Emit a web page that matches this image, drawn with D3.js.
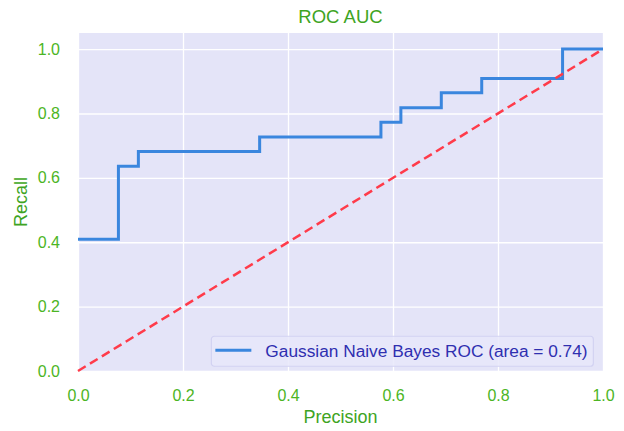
<!DOCTYPE html>
<html>
<head>
<meta charset="utf-8">
<script src="https://cdn.jsdelivr.net/npm/d3@7"></script>
<style>
  body { margin: 0; background: #fff; }
  svg { display: block; font-family: "Liberation Sans", Arial, sans-serif; }
</style>
</head>
<body>
<svg id="chart"></svg>
<script>
// ROC curve (false positive rate, true positive rate)
var fpr = [0, 0.077, 0.077, 0.115, 0.115, 0.346, 0.346, 0.577, 0.577, 0.615, 0.615, 0.692, 0.692, 0.769, 0.769, 0.923, 0.923, 1.0];
var tpr = [0.409, 0.409, 0.636, 0.636, 0.682, 0.682, 0.727, 0.727, 0.773, 0.773, 0.818, 0.818, 0.864, 0.864, 0.909, 0.909, 1.0, 1.0];
var diagonal = [[0, 0], [1, 1]];
var xTicks = [0, 0.2, 0.4, 0.6, 0.8, 1.0];
var yTicks = [0, 0.2, 0.4, 0.6, 0.8, 1.0];
var legendLabel = 'Gaussian Naive Bayes ROC (area = 0.74)';

var config = {
  svgWidth: 624,
  svgHeight: 431,
  margin: { top: 33, left: 78, right: 21, bottom: 60 },
  bg: '#e4e4f8',
  green: '#4cb524',
  titleGreen: '#3ea423',
  blue: '#3a86de',
  red: '#ff3b4a',
  legendText: '#2f2fb0',
  tickFont: 16,
  labelFont: 18,
  legendFont: 17.3
};

var svg = d3.select('#chart')
  .attr('width', config.svgWidth)
  .attr('height', config.svgHeight);

var gWidth = config.svgWidth - config.margin.left - config.margin.right;
var gHeight = config.svgHeight - config.margin.top - config.margin.bottom;

var g = svg.append('g')
  .attr('transform', 'translate(' + config.margin.left + ',' + config.margin.top + ')');

var x = d3.scaleLinear().domain([0, 1]).range([0, gWidth]);
var y = d3.scaleLinear().domain([0, 1.05]).range([gHeight, 0]);

g.append('rect')
  .attr('width', gWidth)
  .attr('height', gHeight)
  .attr('fill', config.bg);

// grid
g.append('g')
  .attr('transform', 'translate(0,' + gHeight + ')')
  .call(d3.axisBottom(x).tickValues(xTicks).tickSize(-gHeight).tickFormat(''))
  .call(function(s) {
    s.select('.domain').remove();
    s.selectAll('line').attr('stroke', '#fff').attr('stroke-width', 1.3);
  });
g.append('g')
  .call(d3.axisLeft(y).tickValues(yTicks).tickSize(-gWidth).tickFormat(''))
  .call(function(s) {
    s.select('.domain').remove();
    s.selectAll('line').attr('stroke', '#fff').attr('stroke-width', 1.3);
  });

// tick labels
g.append('g')
  .attr('transform', 'translate(0,' + gHeight + ')')
  .call(d3.axisBottom(x).tickValues(xTicks).tickSize(0).tickPadding(19).tickFormat(d3.format('.1f')))
  .call(function(s) {
    s.select('.domain').remove();
    s.selectAll('text').attr('fill', config.green).attr('font-size', config.tickFont + 'px')
      .attr('font-family', '"Liberation Sans", Arial, sans-serif');
  });
g.append('g')
  .call(d3.axisLeft(y).tickValues(yTicks).tickSize(0).tickPadding(18).tickFormat(d3.format('.1f')))
  .call(function(s) {
    s.select('.domain').remove();
    s.selectAll('text').attr('fill', config.green).attr('font-size', config.tickFont + 'px')
      .attr('font-family', '"Liberation Sans", Arial, sans-serif');
  });

var line = d3.line()
  .x(function(d) { return x(d[0]); })
  .y(function(d) { return y(d[1]); });

// roc step curve
var rocPoints = fpr.map(function(v, i) { return [v, tpr[i]]; });
g.append('path')
  .attr('d', line(rocPoints))
  .attr('fill', 'none')
  .attr('stroke', config.blue)
  .attr('stroke-width', 3);

// chance diagonal
g.append('path')
  .attr('d', line(diagonal))
  .attr('fill', 'none')
  .attr('stroke', config.red)
  .attr('stroke-width', 2.5)
  .attr('stroke-dasharray', '9,5');

// legend
var legend = g.append('g')
  .attr('transform', 'translate(' + (x(0.254)) + ',' + (y(0.108)) + ')');
legend.append('rect')
  .attr('width', 382)
  .attr('height', 30)
  .attr('rx', 3)
  .attr('fill', '#e8e8fa')
  .attr('fill-opacity', 0.85)
  .attr('stroke', '#d2d2f2')
  .attr('stroke-width', 1.2);
legend.append('line')
  .attr('x1', 4).attr('x2', 40)
  .attr('y1', 14).attr('y2', 14)
  .attr('stroke', config.blue)
  .attr('stroke-width', 3);
legend.append('text')
  .attr('x', 54)
  .attr('y', 21)
  .attr('font-size', config.legendFont + 'px')
  .attr('fill', config.legendText)
  .text(legendLabel);

// titles
svg.append('text')
  .attr('x', config.margin.left + gWidth / 2)
  .attr('y', 23)
  .attr('text-anchor', 'middle')
  .attr('font-size', '18.5px')
  .attr('fill', config.titleGreen)
  .text('ROC AUC');

svg.append('text')
  .attr('x', config.margin.left + gWidth / 2)
  .attr('y', 423)
  .attr('text-anchor', 'middle')
  .attr('font-size', config.labelFont + 'px')
  .attr('fill', config.titleGreen)
  .text('Precision');

svg.append('text')
  .attr('transform', 'translate(27,' + (config.margin.top + gHeight / 2) + ') rotate(-90)')
  .attr('text-anchor', 'middle')
  .attr('font-size', config.labelFont + 'px')
  .attr('fill', config.titleGreen)
  .text('Recall');
</script>
</body>
</html>
